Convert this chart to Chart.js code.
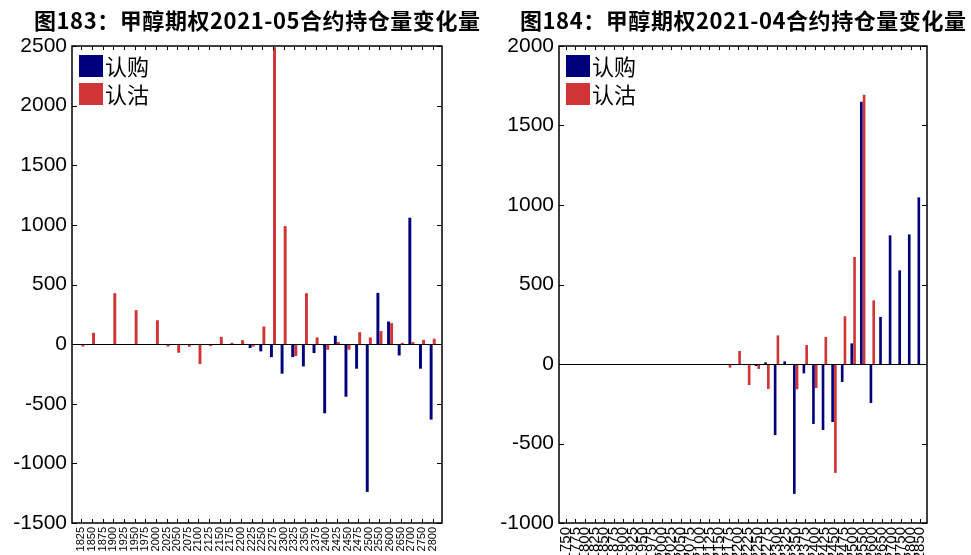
<!DOCTYPE html>
<html>
<head>
<meta charset="utf-8">
<script src="https://cdn.jsdelivr.net/npm/chart.js@4.4.1/dist/chart.umd.min.js"></script>
<style>
  body { margin: 0; background: #fff; }
  #wrap { position: relative; width: 971px; height: 555px; overflow: hidden; }
  canvas { position: absolute; top: 0; }
</style>
</head>
<body>
<div id="wrap">
  <canvas id="left-chart" width="485" height="555" style="left:0"></canvas>
  <canvas id="right-chart" width="486" height="555" style="left:485px"></canvas>
</div>
<script>
// 图183 data (2021-05 contract)
const may_strikes = ['1825','1850','1875','1900','1925','1950','1975','2000','2025','2050','2075','2100','2125','2150','2175','2200','2225','2250','2275','2300','2325','2350','2375','2400','2425','2450','2475','2500','2550','2600','2650','2700','2750','2800'];
const may_call = [0,0,0,0,0,0,0,0,0,0,0,0,0,0,0,0,-33,-61,-109,-248,-109,-187,-75,-580,70,-441,-206,-1239,430,190,-95,1060,-206,-633];
const may_put = [-20,95,-5,427,-3,285,-3,200,-20,-72,-22,-167,-17,61,11,33,-20,148,2490,990,-100,427,56,-47,17,-47,100,56,109,176,11,17,36,45];

// 图184 data (2021-04 contract)
const apr_strikes = ['1750','1775','1800','1825','1850','1875','1900','1925','1950','1975','2000','2025','2050','2075','2100','2125','2150','2175','2200','2225','2250','2275','2300','2325','2350','2375','2400','2425','2450','2475','2500','2550','2600','2650','2700','2750','2800','2850'];
const apr_call = [0,0,0,0,0,0,0,0,0,0,0,0,0,0,0,0,0,0,0,0,-13,10,-447,17,-817,-59,-377,-415,-365,-113,130,1650,-245,296,809,589,815,1048];
const apr_put = [0,0,0,0,0,0,0,0,0,0,0,0,0,0,0,0,0,-23,82,-132,-31,-157,180,0,-159,119,-151,170,-685,300,673,1694,400,0,0,0,0,0];

const CALL_COLOR = '#00007A';
const PUT_COLOR = '#D03434';

// title, frame, inward ticks, zero line and in-plot legend
const frameTicks = {
    id: 'frameTicks',
    afterDraw(chart, args, opts) {
        const ctx = chart.ctx;
        const a = chart.chartArea;
        const x = chart.scales.x;
        const y = chart.scales.y;
        const L = a.left - opts.pad;
        const R = a.right + opts.pad;
        ctx.save();
        ctx.strokeStyle = '#000';
        ctx.lineWidth = 1;
        ctx.beginPath();
        y.ticks.forEach((t, i) => {
            const py = Math.round(y.getPixelForTick(i)) + 0.5;
            ctx.moveTo(L, py); ctx.lineTo(L + 5, py);
            ctx.moveTo(R, py); ctx.lineTo(R - 5, py);
        });
        x.ticks.forEach((t, i) => {
            const px = Math.round(x.getPixelForTick(i)) + 0.5;
            ctx.moveTo(px, a.bottom); ctx.lineTo(px, a.bottom - 4);
            ctx.moveTo(px, a.top); ctx.lineTo(px, a.top + 4);
        });
        const z = Math.round(y.getPixelForValue(0)) + 0.5;
        ctx.moveTo(L, z); ctx.lineTo(R, z);
        ctx.stroke();

        ctx.lineWidth = 1.5;
        ctx.strokeRect(L, a.top, R - L, a.height);

        // title, stretched to the width it has in the source picture
        ctx.font = 'bold 22px "Noto Sans CJK SC", sans-serif';
        ctx.letterSpacing = '0px';
        const w = ctx.measureText(opts.title).width;
        const n = [...opts.title].length;
        const sp = (opts.titleWidth - w) / (n - 1);
        ctx.letterSpacing = sp + 'px';
        ctx.textAlign = 'center';
        ctx.textBaseline = 'middle';
        ctx.fillStyle = '#000';
        ctx.fillText(opts.title, (L + R) / 2 + sp / 2, 21);
        ctx.letterSpacing = '0px';

        // legend
        ctx.font = '22px "Noto Sans CJK SC", sans-serif';
        ctx.textAlign = 'left';
        chart.data.datasets.forEach((ds, i) => {
            const bx = L + 7;
            const by = a.top + 9 + i * 28;
            ctx.fillStyle = ds.backgroundColor;
            ctx.fillRect(bx, by, 24, 22);
            ctx.fillStyle = '#000';
            ctx.fillText(ds.label, bx + 26, by + 12);
        });
        ctx.restore();
    }
};

function makeChart(id, title, labels, calls, puts, yMin, yMax, frameLeft, frameRight, pad, labelSize) {
    const canvas = document.getElementById(id);
    const ctx = canvas.getContext('2d');
    return new Chart(ctx, {
        type: 'bar',
        data: {
            labels: labels,
            datasets: [
                {
                    label: '认购',
                    data: calls,
                    backgroundColor: CALL_COLOR,
                    borderWidth: 0,
                    categoryPercentage: 0.58,
                    barPercentage: 0.95
                },
                {
                    label: '认沽',
                    data: puts,
                    backgroundColor: PUT_COLOR,
                    borderWidth: 0,
                    categoryPercentage: 0.58,
                    barPercentage: 0.95
                }
            ]
        },
        options: {
            responsive: false,
            animation: false,
            layout: { padding: { left: 0, right: canvas.width - (frameRight - pad), top: 46, bottom: 0 } },
            plugins: {
                legend: { display: false },
                tooltip: { enabled: false },
                title: { display: false },
                frameTicks: { pad: pad, title: title, titleWidth: 446 }
            },
            scales: {
                x: {
                    grid: { display: false, drawTicks: false },
                    border: { display: false },
                    ticks: {
                        autoSkip: false,
                        minRotation: 90,
                        maxRotation: 90,
                        padding: 4,
                        color: '#000',
                        font: { family: '"Liberation Sans", Arial, sans-serif', size: labelSize }
                    },
                    afterFit: (scale) => { scale.height = 32; }
                },
                y: {
                    min: yMin,
                    max: yMax,
                    grid: { display: false, drawTicks: false },
                    border: { display: false },
                    ticks: {
                        stepSize: 500,
                        padding: 5 + pad,
                        color: '#000',
                        font: { family: '"Liberation Sans", Arial, sans-serif', size: 21 },
                        callback: (v) => String(v)
                    },
                    afterFit: (scale) => { scale.width = frameLeft + pad; }
                }
            }
        },
        plugins: [frameTicks]
    });
}

makeChart('left-chart', '图183：甲醇期权2021-05合约持仓量变化量', may_strikes, may_call, may_put, -1500, 2500, 72, 442, 4, 11);
makeChart('right-chart', '图184：甲醇期权2021-04合约持仓量变化量', apr_strikes, apr_call, apr_put, -1000, 2000, 74, 442, 2, 15);
</script>
</body>
</html>
